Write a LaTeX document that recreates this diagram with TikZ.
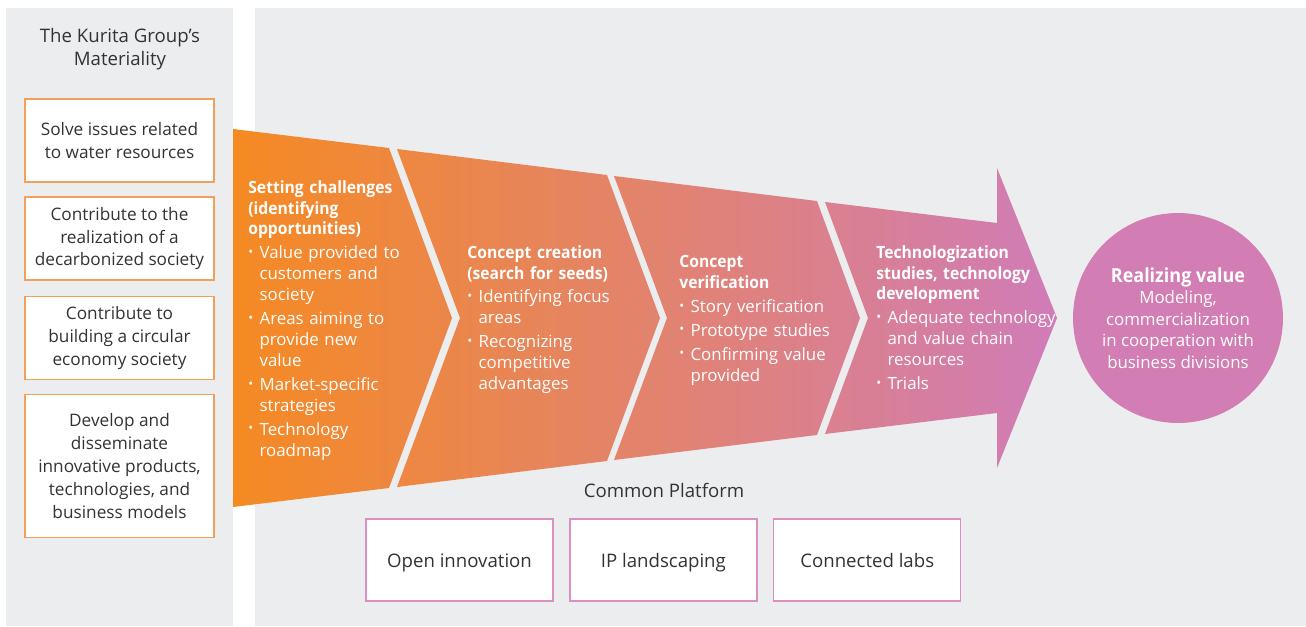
\documentclass[tikz,border=0pt]{standalone}
\usepackage{fontspec}
\setmainfont{Open Sans}[BoldFeatures={FakeStretch=0.93}]
\usepackage{xcolor}
\usetikzlibrary{positioning}
\definecolor{panelgray}{HTML}{ECEDEF}
\definecolor{matorange}{HTML}{F3A05A}
\definecolor{platpink}{HTML}{DA8EC2}
\definecolor{flowstart}{HTML}{F58A22}
\definecolor{flowend}{HTML}{D07CB8}
\definecolor{valuepink}{HTML}{D27DB3}
\definecolor{textgray}{HTML}{333333}
\newcommand{\bul}[1]{\par\vspace{1.7pt}\hangindent=6.4pt\hangafter=1\noindent
  \makebox[6.4pt][l]{\raisebox{1.3pt}{\fontsize{7.5}{7.5}\selectfont\textbullet}}#1\par}
\newcommand{\smallfont}{\fontsize{9.6}{11.9}\selectfont}
\newcommand{\bigfont}{\fontsize{10.6}{13}\selectfont}
\newcommand{\matfont}{\fontsize{9.8}{13}\selectfont}

\begin{document}
\begin{tikzpicture}[x=0.02cm, y=-0.02cm,
  matbox/.style={draw=matorange, fill=white, line width=0.8pt, minimum width=3.78cm,
    minimum height=1.66cm, align=center, text=textgray, font=\matfont, inner sep=0pt},
  platbox/.style={draw=platpink, fill=white, line width=0.8pt, minimum width=3.74cm,
    minimum height=1.64cm, text height=10.5pt, text depth=2.2pt, align=center,
    text=textgray, font=\bigfont, inner sep=0pt},
  stagetext/.style={text=white, font=\smallfont, text width=4cm, align=left,
    inner sep=0pt, anchor=north west}]
  \useasboundingbox (0,0) rectangle (1306,626);
  \fill[white] (0,0) rectangle (1306,626);
  \fill[panelgray] (6,8) rectangle (233,626);
  \fill[panelgray] (255,8) rectangle (1306,626);

  \node[text=textgray, font=\bigfont, align=center] (mattitle) at (120,49)
    {The Kurita Group’s\\Materiality};
  \node[matbox] (mat1) at (119.5,140.5) {Solve issues related\\to water resources};
  \node[matbox, below=0.275cm of mat1] (mat2)
    {Contribute to the\\realization of a\\decarbonized society};
  \node[matbox, below=0.295cm of mat2] (mat3)
    {Contribute to\\building a circular\\economy society};
  \node[matbox, minimum height=2.86cm, below=0.275cm of mat3] (mat4)
    {Develop and\\disseminate\\innovative products,\\technologies, and\\business models};

  \shade[left color=flowstart, right color=flowend]
    (233,129) -- (389,148) -- (452,318) -- (389,488) -- (233,507) -- cycle
    (397,149) -- (607,175) -- (660,318) -- (607,461) -- (397,487) -- (460,318) -- cycle
    (614,176) -- (817,201) -- (860,318) -- (817,435) -- (614,460) -- (667,318) -- cycle
    (825,202) -- (997,223) -- (997,168) -- (1057,318) -- (997,468) -- (997,413)
      -- (825,434) -- (868,318) -- cycle;

  \node[stagetext] (stage1) at (248,180)
    {\textbf{Setting challenges\\(identifying\\opportunities)}
     \bul{Value provided to\newline customers and\newline society}
     \bul{Areas aiming to\newline provide new\newline value}
     \bul{Market-specific\newline strategies}
     \bul{Technology\newline roadmap}};
  \node[stagetext] (stage2) at (467,245)
    {\textbf{Concept creation\\(search for seeds)}
     \bul{Identifying focus\newline areas}
     \bul{Recognizing\newline competitive\newline advantages}};
  \node[stagetext] (stage3) at (679,255)
    {\textbf{Concept\\verification}
     \bul{Story verification}
     \bul{Prototype studies}
     \bul{Confirming value\newline provided}};
  \node[stagetext] (stage4) at (876,245)
    {\textbf{Technologization\\studies, technology\\development}
     \bul{Adequate technology\newline and value chain\newline resources}
     \bul{Trials}};

  \node[circle, fill=valuepink, minimum size=4.2cm, inner sep=0pt, text=white,
    font=\fontsize{9.6}{12.3}\selectfont, align=center] (value) at (1178,318)
    {{\fontsize{11}{13}\selectfont\bfseries Realizing value}\\Modeling,\\commercialization\\in cooperation with\\business divisions};

  \node[text=textgray, font=\bigfont] (plat) at (664,490) {Common Platform};
  \node[platbox] (openinn) at (459.5,560) {Open innovation};
  \node[platbox, right=0.31cm of openinn] (iplands) {IP landscaping};
  \node[platbox, right=0.31cm of iplands] (labs) {Connected labs};
\end{tikzpicture}
\end{document}
